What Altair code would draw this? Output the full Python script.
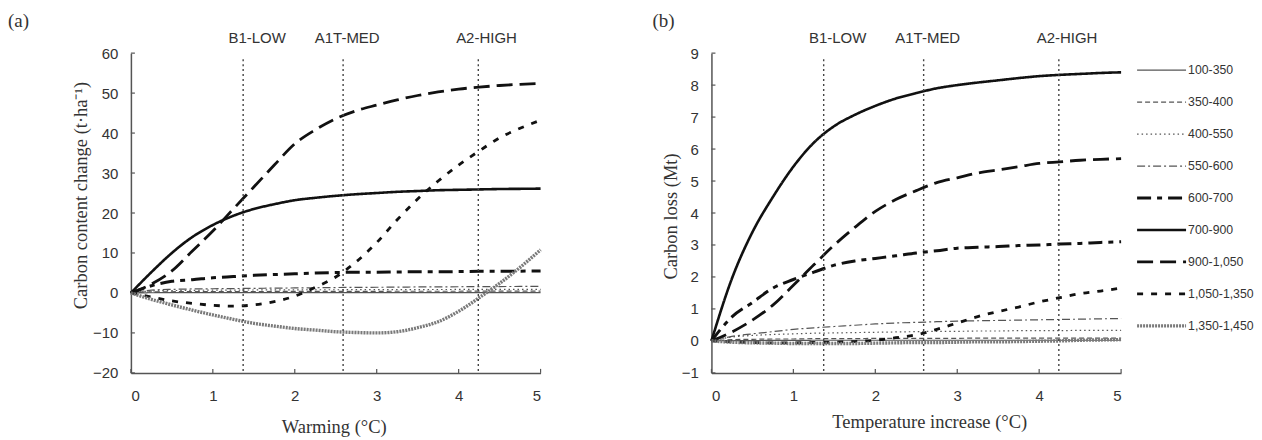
import altair as alt
import pandas as pd

# ---------------- data ----------------
x_grid = [0.0, 0.25, 0.5, 0.75, 1.0, 1.25, 1.5, 1.75, 2.0, 2.25, 2.5,
          2.75, 3.0, 3.25, 3.5, 3.75, 4.0, 4.25, 4.5, 4.75, 5.0]

series = ["100-350", "350-400", "400-550", "550-600", "600-700",
          "700-900", "900-1,050", "1,050-1,350", "1,350-1,450"]

# panel (a): carbon content change (t/ha)
a_100_350 = [0, 0.05, 0.07, 0.08, 0.09, 0.1, 0.1, 0.1, 0.1, 0.1, 0.1,
             0.1, 0.1, 0.1, 0.1, 0.1, 0.1, 0.1, 0.1, 0.1, 0.1]
a_350_400 = [0, 0.25, 0.3, 0.32, 0.34, 0.35, 0.36, 0.37, 0.38, 0.39, 0.4,
             0.4, 0.41, 0.42, 0.42, 0.43, 0.43, 0.44, 0.44, 0.45, 0.45]
a_400_550 = [0, 0.5, 0.6, 0.65, 0.7, 0.72, 0.74, 0.76, 0.78, 0.8, 0.8,
             0.82, 0.83, 0.84, 0.85, 0.86, 0.87, 0.88, 0.89, 0.9, 0.9]
a_550_600 = [0, 0.7, 0.9, 1.0, 1.05, 1.1, 1.15, 1.2, 1.25, 1.3, 1.35,
             1.4, 1.42, 1.45, 1.5, 1.52, 1.55, 1.58, 1.6, 1.62, 1.65]
a_600_700 = [0, 1.8, 2.9, 3.3, 3.8, 4.1, 4.4, 4.6, 4.8, 5.0, 5.1,
             5.2, 5.2, 5.25, 5.3, 5.3, 5.35, 5.4, 5.4, 5.45, 5.5]
a_700_900 = [0, 5.2, 10.0, 14.0, 17.0, 19.3, 21.0, 22.2, 23.2, 23.8, 24.3,
             24.7, 25.0, 25.3, 25.5, 25.7, 25.8, 25.9, 26.0, 26.05, 26.1]
a_900_1050 = [0, 2.2, 5.5, 10.5, 15.5, 21.0, 26.5, 32.0, 37.3, 40.8, 43.6,
              45.6, 47.0, 48.3, 49.4, 50.3, 51.0, 51.5, 51.9, 52.2, 52.4]
a_1050_1350 = [0, -1.0, -2.0, -2.6, -3.1, -3.3, -3.0, -2.2, -0.8, 1.4, 4.0,
               7.8, 12.6, 18.3, 23.5, 28.0, 32.0, 35.5, 38.8, 41.2, 43.2]
a_1350_1450 = [0, -1.6, -3.0, -4.3, -5.5, -6.6, -7.6, -8.3, -8.9, -9.3, -9.7,
               -9.9, -10.0, -9.7, -8.7, -7.2, -4.6, -1.2, 2.4, 6.4, 10.8]

# panel (b): carbon loss (Mt)
b_100_350 = [0, 0.01, 0.01, 0.015, 0.015, 0.02, 0.02, 0.02, 0.02, 0.02, 0.02,
             0.02, 0.02, 0.02, 0.02, 0.02, 0.02, 0.02, 0.02, 0.02, 0.02]
b_350_400 = [0, 0.04, 0.05, 0.06, 0.06, 0.07, 0.07, 0.07, 0.08, 0.08, 0.08,
             0.08, 0.08, 0.09, 0.09, 0.09, 0.09, 0.09, 0.09, 0.09, 0.09]
b_400_550 = [0, 0.12, 0.17, 0.2, 0.22, 0.24, 0.25, 0.26, 0.27, 0.28, 0.29,
             0.3, 0.3, 0.31, 0.31, 0.32, 0.32, 0.32, 0.33, 0.33, 0.33]
b_550_600 = [0, 0.14, 0.22, 0.29, 0.36, 0.41, 0.45, 0.49, 0.53, 0.56, 0.58,
             0.6, 0.62, 0.63, 0.64, 0.65, 0.66, 0.67, 0.68, 0.69, 0.7]
b_600_700 = [0, 0.75, 1.2, 1.65, 1.92, 2.15, 2.37, 2.5, 2.58, 2.66, 2.75,
             2.82, 2.9, 2.93, 2.95, 2.98, 3.0, 3.03, 3.05, 3.08, 3.1]
b_700_900 = [0, 1.95, 3.4, 4.5, 5.45, 6.2, 6.72, 7.07, 7.35, 7.58, 7.75,
             7.9, 8.0, 8.08, 8.15, 8.22, 8.28, 8.32, 8.35, 8.38, 8.4]
b_900_1050 = [0, 0.28, 0.65, 1.12, 1.74, 2.38, 3.0, 3.55, 4.05, 4.42, 4.7,
              4.95, 5.1, 5.25, 5.35, 5.45, 5.55, 5.6, 5.65, 5.68, 5.7]
b_1050_1350 = [0, -0.03, -0.05, -0.06, -0.06, -0.05, -0.04, -0.02, 0.02, 0.1, 0.19,
               0.36, 0.56, 0.76, 0.92, 1.06, 1.22, 1.35, 1.48, 1.56, 1.65]
b_1350_1450 = [0, -0.04, -0.06, -0.07, -0.08, -0.08, -0.08, -0.08, -0.07, -0.06, -0.05,
               -0.05, -0.04, -0.03, -0.03, -0.02, -0.01, 0.0, 0.02, 0.03, 0.04]

panel_a_values = [a_100_350, a_350_400, a_400_550, a_550_600, a_600_700,
                  a_700_900, a_900_1050, a_1050_1350, a_1350_1450]
panel_b_values = [b_100_350, b_350_400, b_400_550, b_550_600, b_600_700,
                  b_700_900, b_900_1050, b_1050_1350, b_1350_1450]

scenario_names = ["B1-LOW", "A1T-MED", "A2-HIGH"]
scenario_x = [1.37, 2.59, 4.24]
scenario_label_x = [1.54, 2.64, 4.34]

x_ticks = [0, 1, 2, 3, 4, 5]
a_y_ticks = [-20, -10, 0, 10, 20, 30, 40, 50, 60]
b_y_ticks = [-1, 0, 1, 2, 3, 4, 5, 6, 7, 8, 9]

# ---------------- styles ----------------
line_colors = ["#555555", "#555555", "#555555", "#555555", "#111111",
               "#111111", "#111111", "#111111", "#7a7a7a"]
line_widths = [1.2, 1.2, 1.2, 1.2, 3.0, 2.6, 2.8, 2.8, 3.4]
line_dashes = [[1, 0], [5, 3], [1.5, 3], [8, 3, 2, 3], [14, 6, 5, 6],
               [1, 0], [16, 7], [6, 8], [2, 1]]
width_of = dict(zip(series, line_widths))

W, H = 410, 320
SANS = "Liberation Sans"
SERIF = "Liberation Serif"
TXT = "#333333"

color_scale = alt.Scale(domain=series, range=line_colors)
dash_scale = alt.Scale(domain=series, range=line_dashes)


def make_panel(values, y_domain, y_ticks, y_title, x_title, tag, tag_x,
               ytitle_xy, xtitle_xy, show_legend):
    df = pd.DataFrame([
        {"x": x, "y": v, "series": s, "sw": width_of[s]}
        for s, arr in zip(series, values)
        for x, v in zip(x_grid, arr)
    ])
    xs = alt.Scale(domain=[0, 5], nice=False, zero=False)
    ys = alt.Scale(domain=y_domain, nice=False, zero=False)

    x_enc = alt.X("x:Q", scale=xs,
                  axis=alt.Axis(values=x_ticks, title=x_title, format="d",
                                titleX=xtitle_xy[0], titleY=xtitle_xy[1],
                                titleAlign="center", titleBaseline="middle",
                                labelPadding=16))
    y_enc = alt.Y("y:Q", scale=ys,
                  axis=alt.Axis(values=y_ticks, title=y_title, format="d",
                                titleX=ytitle_xy[0], titleY=ytitle_xy[1],
                                titleAngle=-90, titleAlign="center",
                                titleBaseline="middle", labelPadding=13))

    lines = alt.Chart(df).mark_line(interpolate="monotone").encode(
        x=x_enc,
        y=y_enc,
        color=alt.Color("series:N", scale=color_scale, legend=None),
        strokeDash=alt.StrokeDash("series:N", scale=dash_scale, legend=None),
        strokeWidth=alt.StrokeWidth("sw:Q", scale=None, legend=None),
        detail="series:N",
    )

    scen_df = pd.DataFrame({"x": scenario_x, "name": scenario_names})
    vrules = alt.Chart(scen_df).mark_rule(color="#444444", strokeWidth=1.4,
                                          strokeDash=[2, 3]).encode(
        x=x_enc,
        y=alt.value(6), y2=alt.value(H),
    )
    lab_df = pd.DataFrame({"x": scenario_label_x, "name": scenario_names})
    vlabels = alt.Chart(lab_df).mark_text(font=SANS, fontSize=15, color=TXT,
                                          baseline="middle", align="center").encode(
        x=x_enc,
        y=alt.value(-15),
        text="name:N",
    )

    xt_df = pd.DataFrame({"x": x_ticks})
    xtick_marks = alt.Chart(xt_df).mark_rule(color="#555555", strokeWidth=1.2).encode(
        x=x_enc,
        y=alt.value(H), y2=alt.value(H - 4),
    )
    yt_df = pd.DataFrame({"y": y_ticks})
    ytick_marks = alt.Chart(yt_df).mark_rule(color="#555555", strokeWidth=1.2).encode(
        y=y_enc,
        x=alt.value(0), x2=alt.value(4),
    )

    tag_df = pd.DataFrame({"t": [tag]})
    tag_mark = alt.Chart(tag_df).mark_text(font=SERIF, fontSize=19, color=TXT,
                                           align="left", baseline="middle").encode(
        x=alt.value(tag_x), y=alt.value(-32), text="t:N",
    )

    plot = alt.layer(lines, vrules, xtick_marks, ytick_marks, vlabels, tag_mark)

    if show_legend:
        leg_df = pd.DataFrame({"series": series,
                               "sw": [width_of[s] for s in series]})
        leg_y = alt.Y("series:N",
                      scale=alt.Scale(type="point", domain=series,
                                      range=[17, 273], padding=0),
                      axis=None)
        leg_lines = alt.Chart(leg_df).mark_rule().encode(
            y=leg_y,
            x=alt.value(426), x2=alt.value(475),
            color=alt.Color("series:N", scale=color_scale, legend=None),
            strokeDash=alt.StrokeDash("series:N", scale=dash_scale, legend=None),
            strokeWidth=alt.StrokeWidth("sw:Q", scale=None, legend=None),
        )
        leg_text = alt.Chart(leg_df).mark_text(font=SANS, fontSize=12.3, color=TXT,
                                               align="left", baseline="middle").encode(
            y=leg_y,
            x=alt.value(477),
            text="series:N",
        )
        legend_layer = alt.layer(leg_lines, leg_text)
        return alt.layer(plot, legend_layer).resolve_scale(y="independent").properties(
            width=W, height=H)

    return plot.properties(width=W, height=H)


left = make_panel(panel_a_values, [-20, 60], a_y_ticks,
                  "Carbon content change (t·ha⁻¹)", "Warming (°C)",
                  "(a)", -123, (-50, 142), (203, 54), False)
right = make_panel(panel_b_values, [-1, 9], b_y_ticks,
                   "Carbon loss (Mt)", "Temperature increase (°C)",
                   "(b)", -59, (-41, 163), (218, 49), True)

chart = alt.hconcat(left, right, spacing=171, bounds="flush").properties(
    padding={"left": 0, "top": 4, "right": 0, "bottom": 0}
).configure_view(
    strokeWidth=0
).configure_axis(
    grid=False, ticks=False, domainColor="#555555", domainWidth=1.5,
    labelFont=SANS, labelFontSize=15, labelColor=TXT,
    titleFont=SERIF, titleFontSize=18.5, titleColor=TXT, titleFontWeight="normal"
)

chart.save("out.html", embed_options={"renderer": "svg", "actions": False})
